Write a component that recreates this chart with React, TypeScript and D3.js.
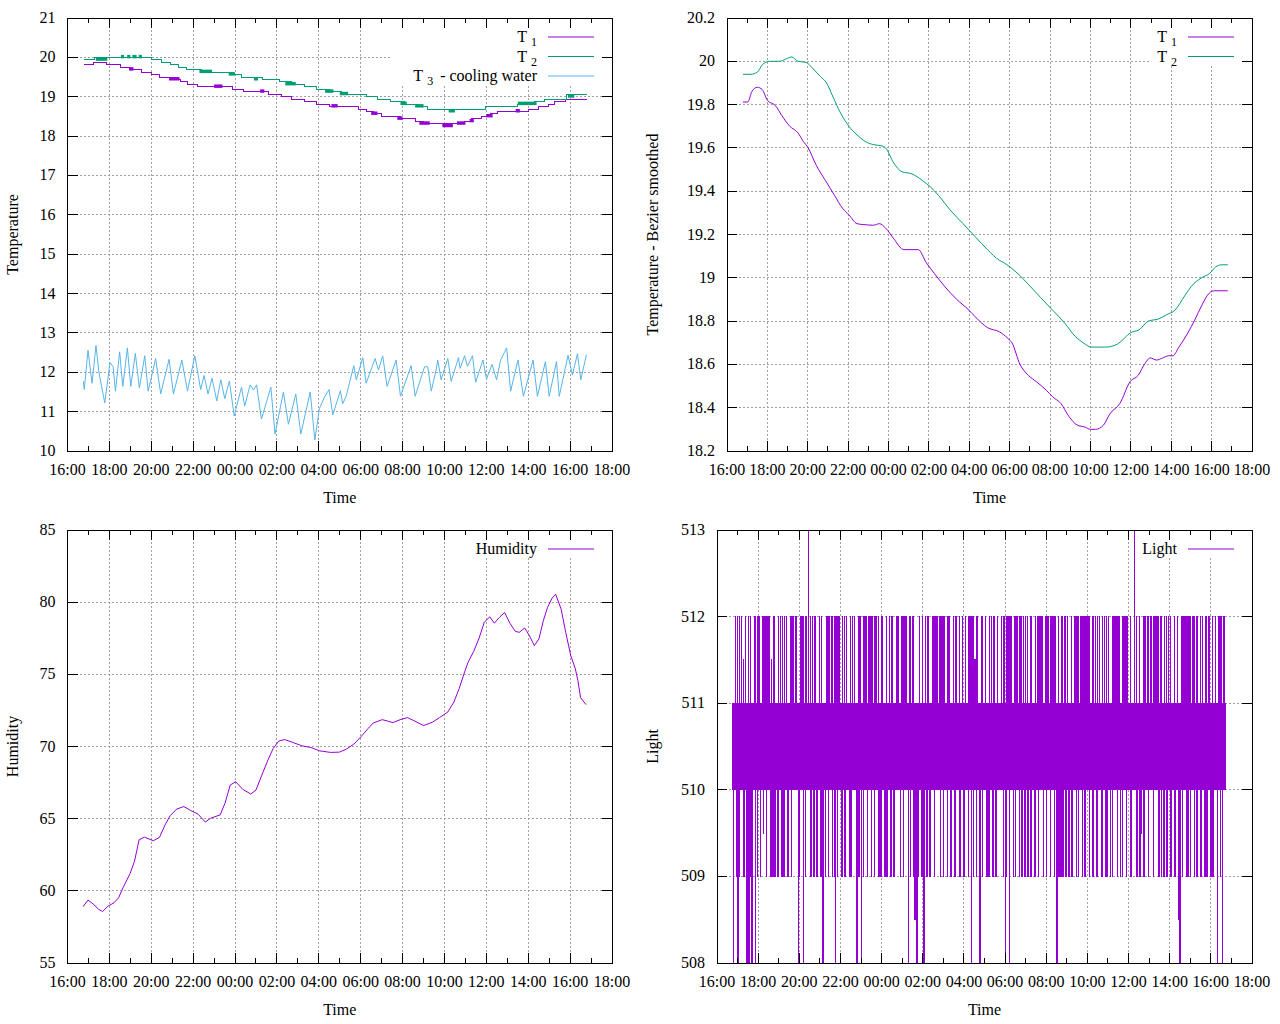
'use client';
import React, { useEffect, useRef } from 'react';
import * as d3 from 'd3';

type Pt = [number, number];
// [from hour, to hour, low value, high value] - stretches where the sensor flickers between two levels
type Band = [number, number, number, number];

// all times are hours after 16:00 on the first day
const startTime = new Date(2024, 2, 4, 16, 0, 0).getTime();
const toDate = (h: number) => new Date(startTime + h * 3600000);

const tempTicks = [10, 11, 12, 13, 14, 15, 16, 17, 18, 19, 20, 21];
const smoothTicks = [18.2, 18.4, 18.6, 18.8, 19, 19.2, 19.4, 19.6, 19.8, 20, 20.2];
const humidityTicks = [55, 60, 65, 70, 75, 80, 85];
const lightTicks = [508, 509, 510, 511, 512, 513];

// raw T1 (sensor steps of 1/16 degree), value holds until the next point
const t1Steps: Pt[] = [
  [0.77, 19.8125], [1.26, 19.875], [1.84, 19.8125], [2.55, 19.75], [2.95, 19.6875],
  [3.55, 19.625], [4.0, 19.5625], [4.4, 19.5], [4.9, 19.4375], [5.4, 19.375],
  [5.75, 19.3125], [6.2, 19.25], [7.9, 19.1875], [8.4, 19.125], [9.6, 19.0625],
  [10.2, 19.0], [10.7, 18.9375], [11.3, 18.875], [11.9, 18.8125], [12.5, 18.75],
  [13.9, 18.6875], [14.3, 18.625], [14.6, 18.5625], [15.0, 18.5], [15.9, 18.4375],
  [16.6, 18.375], [17.0, 18.3125], [18.98, 18.375], [19.3, 18.4375], [19.76, 18.5],
  [20.2, 18.5625], [20.54, 18.625], [22.0, 18.6875], [22.49, 18.75], [22.98, 18.8125],
  [23.27, 18.875], [23.76, 18.9375], [24.8, 18.9375],
];
const t1Flicker: Band[] = [
  [2.95, 3.15, 19.6875, 19.75], [4.85, 5.35, 19.4375, 19.5], [7.0, 7.4, 19.25, 19.3125],
  [9.2, 9.4, 19.125, 19.1875], [12.6, 12.9, 18.75, 18.8125], [14.5, 14.8, 18.5625, 18.625],
  [15.75, 16.0, 18.4375, 18.5], [16.8, 17.3, 18.3125, 18.375], [17.9, 18.4, 18.25, 18.3125],
  [18.6, 19.0, 18.3125, 18.375], [19.2, 19.4, 18.375, 18.4375], [20.0, 20.3, 18.5, 18.5625],
  [21.4, 21.6, 18.625, 18.6875],
];

// raw T2
const t2Steps: Pt[] = [
  [0.77, 19.9375], [1.3, 20.0], [4.0, 19.9375], [4.5, 19.875], [4.9, 19.8125],
  [5.3, 19.75], [5.7, 19.6875], [6.4, 19.625], [7.9, 19.5625], [8.3, 19.5],
  [9.3, 19.4375], [10.1, 19.375], [10.7, 19.3125], [11.3, 19.25], [11.9, 19.1875],
  [12.5, 19.125], [13.1, 19.0625], [14.3, 19.0], [14.8, 18.9375], [15.4, 18.875],
  [16.1, 18.8125], [16.7, 18.75], [17.2, 18.6875], [19.95, 18.75], [21.5, 18.8125],
  [22.3, 18.875], [22.8, 18.9375], [23.85, 19.0625], [24.8, 19.0625],
];
const t2Flicker: Band[] = [
  [1.35, 1.9, 19.9375, 20.0], [2.55, 2.7, 20.0, 20.0625], [2.85, 3.0, 20.0, 20.0625],
  [3.1, 3.3, 20.0, 20.0625], [3.4, 3.55, 20.0, 20.0625], [6.3, 6.9, 19.625, 19.6875],
  [7.7, 8.0, 19.5625, 19.625], [8.9, 9.1, 19.4375, 19.5], [10.4, 10.9, 19.3125, 19.375],
  [12.3, 12.7, 19.125, 19.1875], [13.0, 13.4, 19.0625, 19.125], [15.9, 16.2, 18.8125, 18.875],
  [16.6, 17.0, 18.75, 18.8125], [18.2, 18.5, 18.625, 18.6875], [21.5, 22.4, 18.8125, 18.875],
  [23.9, 24.2, 19.0, 19.0625],
];

// T3 - cooling water
const t3Points: Pt[] = [
  [0.76, 11.77], [0.8, 11.56], [0.98, 12.56], [1.17, 11.72], [1.36, 12.68], [1.5, 12.0],
  [1.78, 11.22], [2.03, 12.25], [2.18, 12.14], [2.29, 11.52], [2.49, 12.52], [2.64, 11.64],
  [2.86, 12.62], [3.02, 11.64], [3.24, 12.48], [3.43, 11.6], [3.69, 12.42], [3.85, 11.52],
  [4.21, 12.35], [4.45, 11.45], [4.85, 12.33], [5.06, 11.45], [5.46, 12.31], [5.73, 11.52],
  [6.08, 12.42], [6.36, 11.56], [6.52, 11.92], [6.71, 11.45], [6.9, 11.85], [7.13, 11.27],
  [7.32, 11.81], [7.51, 11.33], [7.73, 11.78], [7.96, 10.89], [8.31, 11.62], [8.46, 11.14],
  [8.72, 11.68], [8.88, 11.55], [9.03, 11.68], [9.26, 10.81], [9.71, 11.62], [9.91, 10.43],
  [10.31, 11.5], [10.55, 10.68], [10.9, 11.45], [11.14, 10.43], [11.59, 11.5], [11.81, 10.28],
  [12.03, 11.08], [12.29, 11.39], [12.49, 11.56], [12.67, 10.92], [13.03, 11.53], [13.14, 11.2],
  [13.3, 11.38], [13.46, 11.72], [13.67, 12.17], [13.79, 11.81], [14.1, 12.37], [14.26, 11.72],
  [14.69, 12.35], [14.85, 12.06], [15.05, 12.42], [15.26, 11.64], [15.69, 12.31], [15.9, 11.39],
  [16.41, 12.17], [16.6, 11.39], [17.05, 12.14], [17.2, 12.14], [17.37, 11.52], [17.6, 12.06],
  [17.68, 12.31], [17.84, 11.81], [18.16, 12.35], [18.32, 11.77], [18.67, 12.37], [18.75, 12.1],
  [18.96, 12.42], [19.1, 12.15], [19.34, 12.42], [19.49, 11.75], [19.84, 12.31], [20.01, 11.83],
  [20.27, 12.2], [20.49, 11.81], [20.68, 12.31], [20.97, 12.62], [21.16, 11.52], [21.51, 12.31],
  [21.77, 11.39], [22.23, 12.31], [22.44, 11.39], [22.82, 12.27], [23.0, 11.39], [23.35, 12.27],
  [23.48, 11.39], [23.9, 12.43], [24.11, 11.93], [24.35, 12.47], [24.51, 11.81], [24.78, 12.45],
];

// Bezier smoothed temperatures
const t1Smooth: Pt[] = [
  [0.79, 19.812], [1.03, 19.812], [1.23, 19.86], [1.5, 19.88], [1.74, 19.87], [2.0, 19.82],
  [2.4, 19.795], [2.71, 19.75], [3.11, 19.7], [3.51, 19.67], [3.78, 19.63], [4.02, 19.6],
  [4.42, 19.52], [4.87, 19.45], [5.33, 19.38], [5.73, 19.32], [6.04, 19.29], [6.44, 19.25],
  [6.74, 19.246], [7.25, 19.243], [7.55, 19.25], [7.85, 19.23], [8.26, 19.18], [8.76, 19.13],
  [9.16, 19.13], [9.47, 19.13], [9.87, 19.07], [10.27, 19.02], [10.78, 18.96], [11.38, 18.9],
  [11.99, 18.85], [12.29, 18.82], [12.9, 18.77], [13.5, 18.75], [13.91, 18.72], [14.11, 18.7],
  [14.51, 18.6], [14.92, 18.55], [15.32, 18.52], [15.82, 18.48], [16.13, 18.45], [16.53, 18.42],
  [16.93, 18.36], [17.34, 18.32], [17.74, 18.31], [18.0, 18.3], [18.25, 18.3], [18.65, 18.32],
  [18.95, 18.37], [19.46, 18.42], [19.96, 18.52], [20.37, 18.55], [20.67, 18.6], [20.97, 18.63],
  [21.27, 18.62], [21.58, 18.63], [21.88, 18.64], [22.08, 18.64], [22.38, 18.68], [22.79, 18.74],
  [23.19, 18.81], [23.5, 18.87], [23.8, 18.92], [24.1, 18.94], [24.8, 18.94],
];
const t2Smooth: Pt[] = [
  [0.79, 19.94], [1.19, 19.94], [1.5, 19.95], [1.76, 19.985], [2.1, 20.0], [2.6, 20.0],
  [2.91, 20.01], [3.21, 20.02], [3.51, 20.0], [3.92, 19.995], [4.22, 19.97], [4.62, 19.93],
  [4.93, 19.9], [5.23, 19.84], [5.63, 19.76], [6.04, 19.7], [6.44, 19.66], [6.84, 19.63],
  [7.25, 19.615], [7.65, 19.61], [7.85, 19.6], [8.26, 19.53], [8.66, 19.49], [9.16, 19.48],
  [9.67, 19.45], [10.07, 19.42], [10.48, 19.38], [11.08, 19.31], [11.69, 19.25], [12.29, 19.19],
  [12.9, 19.13], [13.5, 19.08], [13.71, 19.07], [14.01, 19.05], [14.51, 19.01], [14.92, 18.97],
  [15.52, 18.91], [16.13, 18.85], [16.73, 18.79], [17.24, 18.73], [17.64, 18.7], [18.04, 18.68],
  [18.35, 18.68], [18.75, 18.68], [19.26, 18.69], [19.56, 18.71], [19.96, 18.745], [20.41, 18.76],
  [20.87, 18.8], [21.37, 18.81], [21.78, 18.83], [22.18, 18.85], [22.69, 18.92], [22.99, 18.96],
  [23.5, 19.0], [23.9, 19.02], [24.2, 19.05], [24.51, 19.06], [24.8, 19.06],
];

const humidityPoints: Pt[] = [
  [0.74, 58.9], [0.98, 59.36], [1.25, 59.06], [1.49, 58.71], [1.68, 58.57], [1.93, 58.94],
  [2.22, 59.17], [2.44, 59.52], [2.65, 60.21], [2.99, 61.2], [3.2, 62.05], [3.42, 63.54],
  [3.67, 63.72], [4.1, 63.47], [4.39, 63.7], [4.66, 64.57], [4.9, 65.2], [5.21, 65.66],
  [5.55, 65.84], [5.89, 65.56], [6.24, 65.31], [6.58, 64.76], [6.83, 65.03], [7.29, 65.26],
  [7.52, 66.07], [7.77, 67.33], [8.03, 67.56], [8.37, 67.03], [8.75, 66.71], [9.0, 66.98],
  [9.28, 68.02], [9.57, 69.06], [9.82, 69.86], [10.08, 70.37], [10.37, 70.48], [10.76, 70.28],
  [11.19, 70.05], [11.62, 69.93], [12.04, 69.7], [12.56, 69.59], [12.98, 69.61], [13.32, 69.82],
  [13.67, 70.16], [14.01, 70.67], [14.35, 71.24], [14.6, 71.63], [15.03, 71.86], [15.54, 71.66],
  [15.89, 71.86], [16.23, 72.0], [16.57, 71.77], [17.0, 71.45], [17.42, 71.68], [17.76, 72.0],
  [18.16, 72.39], [18.45, 73.08], [18.7, 74.0], [18.96, 75.15], [19.13, 75.84], [19.39, 76.57],
  [19.64, 77.45], [19.9, 78.6], [20.16, 78.99], [20.38, 78.55], [20.62, 78.94], [20.87, 79.29],
  [21.13, 78.53], [21.38, 77.98], [21.57, 77.91], [21.83, 78.21], [22.03, 77.75], [22.29, 76.99],
  [22.51, 77.45], [22.72, 78.71], [22.92, 79.63], [23.14, 80.28], [23.31, 80.55], [23.57, 79.52],
  [23.79, 77.91], [24.03, 76.3], [24.25, 75.38], [24.37, 74.57], [24.5, 73.38], [24.76, 72.9],
];

// light readings, one character per 90-second sample, one string per hour from 16:45
const lightFirstHour = 0.75;
const lightSampleHours = 0.025;
const lightLevels: Record<string, number> = {
  '0': 508, a: 508.5, '1': 509, b: 509.5, '2': 510, '3': 511, d: 511.5, '4': 512, '5': 513,
};
const lightCodes = [
  '2303242314 0314232423 2d13242303 2403142303',
  '2324032314 2423132324 b324231423 24231d2314',
  '2413232314 2324231423 1423242313 2324132423',
  '2324232303 1324232403 2314232523 2413242314',
  '2423132324 2314230323 1324231423 2324132314',
  '0324132423 2314232413 2423232314 1324232423',
  '2303241423 0323142324 2313242324 1423231424',
  '2324132314 2423231324 1323242314 2423132324',
  '2423231324 2314232423 2303241323 2413a32303',
  '1324232314 2303242314 2423132324 2314232423',
  '2324132423 1423232314 2423132324 2314242323',
  '2413232423 1324232314 2324032413 2d23142323',
  '0303241323 2423132314 2324231424 2313242323',
  '2324231423 0314232403 2423231324 1324232314',
  '2413242314 2324132324 1423232314 2324132423',
  '2423132324 1324232314 2324231423 0324132314',
  '2413242413 2423132324 1323242314 2413232423',
  '1423141324 2324132324 1423242314 2324232314',
  '2324231413 2423132314 2324232413 2423132314',
  '2d24231423 2324132323 2523241323 2413b32324',
  '1423232413 2324232314 2324232413 1324132314',
  '2324132423 2413232324 13232423a3 0324132423',
  '2413141324 1323242413 2314132324 1324232314',
  '2413242423 1324132324 2303242314 2303242323',
];
const lightPoints: Pt[] = lightCodes
  .join('')
  .replace(/ /g, '')
  .split('')
  .map((c, i) => [lightFirstHour + i * lightSampleHours, lightLevels[c]] as Pt);

const PURPLE = '#9400d3';
const GREEN = '#009e73';
const BLUE = '#56b4e9';
const FONT = "'Liberation Serif', 'Times New Roman', serif";

const PLOT_TOP = 18;
const PLOT_BOTTOM = 451;
const PLOT_RIGHT = 612;

interface SeriesSpec {
  label: string;
  color: string;
  data: Pt[];
  step?: boolean;
  bands?: Band[];
  smooth?: boolean;
}

interface PanelSpec {
  ox: number;
  oy: number;
  left: number;
  yTicks: number[];
  yLabel: string;
  keyLeft: number;
  series: SeriesSpec[];
}

const panels: PanelSpec[] = [
  {
    ox: 0, oy: 0, left: 67.5, yTicks: tempTicks, yLabel: 'Temperature', keyLeft: 390,
    series: [
      { label: 'T_1', color: PURPLE, data: t1Steps, step: true, bands: t1Flicker },
      { label: 'T_2', color: GREEN, data: t2Steps, step: true, bands: t2Flicker },
      { label: 'T_3 - cooling water', color: BLUE, data: t3Points },
    ],
  },
  {
    ox: 640, oy: 0, left: 87, yTicks: smoothTicks, yLabel: 'Temperature - Bezier smoothed', keyLeft: 509,
    series: [
      { label: 'T_1', color: PURPLE, data: t1Smooth, smooth: true },
      { label: 'T_2', color: GREEN, data: t2Smooth, smooth: true },
    ],
  },
  {
    ox: 0, oy: 512, left: 67.5, yTicks: humidityTicks, yLabel: 'Humidity', keyLeft: 470,
    series: [{ label: 'Humidity', color: PURPLE, data: humidityPoints }],
  },
  {
    ox: 640, oy: 512, left: 77, yTicks: lightTicks, yLabel: 'Light', keyLeft: 495,
    series: [{ label: 'Light', color: PURPLE, data: lightPoints, step: true }],
  },
];

function addLabel(
  sel: d3.Selection<SVGTextElement, unknown, null, undefined>,
  label: string,
) {
  // gnuplot enhanced text: "T_1" -> T with subscript 1
  const m = label.match(/^(.*?)_(\w)(.*)$/);
  if (!m) {
    sel.text(label);
    return;
  }
  sel.append('tspan').text(m[1]);
  sel.append('tspan').attr('font-size', 12).attr('dx', 4).attr('dy', 4).text(m[2]);
  if (m[3]) sel.append('tspan').attr('font-size', 16).attr('dx', 3).attr('dy', -4).text(m[3].replace(/^ /, '\u00a0'));
}

function drawPanel(root: d3.Selection<SVGGElement, unknown, null, undefined>, p: PanelSpec, id: number) {
  const g = root.append('g').attr('transform', `translate(${p.ox},${p.oy})`);
  const x = d3.scaleTime().domain([toDate(0), toDate(26)]).range([p.left, PLOT_RIGHT]);
  const y = d3
    .scaleLinear()
    .domain([p.yTicks[0], p.yTicks[p.yTicks.length - 1]])
    .range([PLOT_BOTTOM, PLOT_TOP]);

  const majors = d3.timeHour.every(2)!.range(toDate(0), new Date(toDate(26).getTime() + 1));
  const minors = d3.timeHour.range(toDate(0), toDate(26)).filter((d) => d.getHours() % 2 === 1);

  // grid
  const grid = g.append('g').attr('stroke', '#a0a0a0').attr('stroke-dasharray', '2,2').attr('shape-rendering', 'crispEdges');
  majors.slice(1, -1).forEach((d) => {
    grid.append('line').attr('x1', x(d)).attr('x2', x(d)).attr('y1', PLOT_TOP).attr('y2', PLOT_BOTTOM);
  });
  p.yTicks.slice(1, -1).forEach((v) => {
    grid.append('line').attr('x1', p.left).attr('x2', PLOT_RIGHT).attr('y1', y(v)).attr('y2', y(v));
  });

  // key area hides the grid
  const rows = p.series.length;
  g.append('rect')
    .attr('x', p.keyLeft)
    .attr('y', PLOT_TOP + 1)
    .attr('width', PLOT_RIGHT - p.keyLeft - 1)
    .attr('height', 27 + (rows - 1) * 19.5)
    .attr('fill', '#fff');

  // data
  const clipId = `clip-${id}`;
  g.append('clipPath')
    .attr('id', clipId)
    .append('rect')
    .attr('x', p.left)
    .attr('y', PLOT_TOP)
    .attr('width', PLOT_RIGHT - p.left)
    .attr('height', PLOT_BOTTOM - PLOT_TOP);
  const plot = g.append('g').attr('clip-path', `url(#${clipId})`);

  p.series.forEach((s) => {
    const line = d3
      .line<Pt>()
      .x((d) => x(toDate(d[0])))
      .y((d) => y(d[1]))
      .curve(s.step ? d3.curveStepAfter : s.smooth ? d3.curveMonotoneX : d3.curveLinear);
    if (s.bands) {
      plot
        .append('g')
        .selectAll('rect')
        .data(s.bands)
        .enter()
        .append('rect')
        .attr('x', (d) => x(toDate(d[0])))
        .attr('width', (d) => x(toDate(d[1])) - x(toDate(d[0])))
        .attr('y', (d) => y(d[3]))
        .attr('height', (d) => y(d[2]) - y(d[3]) + 1)
        .attr('fill', s.color);
    }
    plot
      .append('path')
      .attr('d', line(s.data) as string)
      .attr('fill', 'none')
      .attr('stroke', s.color)
      .attr('stroke-width', 1)
      .attr('shape-rendering', s.step ? 'crispEdges' : 'auto');
  });

  // border and ticks
  const axes = g.append('g').attr('stroke', '#000').attr('shape-rendering', 'crispEdges');
  axes
    .append('rect')
    .attr('x', p.left)
    .attr('y', PLOT_TOP)
    .attr('width', PLOT_RIGHT - p.left)
    .attr('height', PLOT_BOTTOM - PLOT_TOP)
    .attr('fill', 'none');
  majors.forEach((d) => {
    axes.append('line').attr('x1', x(d)).attr('x2', x(d)).attr('y1', PLOT_BOTTOM).attr('y2', PLOT_BOTTOM - 10);
    axes.append('line').attr('x1', x(d)).attr('x2', x(d)).attr('y1', PLOT_TOP).attr('y2', PLOT_TOP + 10);
  });
  minors.forEach((d) => {
    axes.append('line').attr('x1', x(d)).attr('x2', x(d)).attr('y1', PLOT_BOTTOM).attr('y2', PLOT_BOTTOM - 5);
    axes.append('line').attr('x1', x(d)).attr('x2', x(d)).attr('y1', PLOT_TOP).attr('y2', PLOT_TOP + 5);
  });
  p.yTicks.forEach((v) => {
    axes.append('line').attr('x1', p.left).attr('x2', p.left + 10).attr('y1', y(v)).attr('y2', y(v));
    axes.append('line').attr('x1', PLOT_RIGHT).attr('x2', PLOT_RIGHT - 10).attr('y1', y(v)).attr('y2', y(v));
  });

  // tick labels
  const txt = g.append('g').attr('font-family', FONT).attr('font-size', 16).attr('fill', '#000');
  const fmtTime = d3.timeFormat('%H:%M');
  majors.forEach((d) => {
    txt.append('text').attr('x', x(d)).attr('y', PLOT_BOTTOM + 24).attr('text-anchor', 'middle').text(fmtTime(d));
  });
  const fmtY = d3.format('~g');
  p.yTicks.forEach((v) => {
    txt.append('text').attr('x', p.left - 12).attr('y', y(v) + 5).attr('text-anchor', 'end').text(fmtY(v));
  });

  // axis titles
  txt
    .append('text')
    .attr('x', (p.left + PLOT_RIGHT) / 2)
    .attr('y', PLOT_BOTTOM + 52)
    .attr('text-anchor', 'middle')
    .text('Time');
  const midY = (PLOT_TOP + PLOT_BOTTOM) / 2;
  txt
    .append('text')
    .attr('transform', `translate(18,${midY}) rotate(-90)`)
    .attr('text-anchor', 'middle')
    .text(p.yLabel);

  // key
  p.series.forEach((s, i) => {
    const cy = PLOT_TOP + 19 + i * 19.5;
    const t = txt.append('text').attr('x', 537).attr('y', cy + 5).attr('text-anchor', 'end');
    addLabel(t, s.label);
    g.append('line')
      .attr('x1', 548)
      .attr('x2', 594)
      .attr('y1', cy)
      .attr('y2', cy)
      .attr('stroke', s.color)
      .attr('stroke-width', 1.2);
  });
}

const App: React.FC = () => {
  const ref = useRef<SVGSVGElement>(null);

  useEffect(() => {
    if (!ref.current) return;
    const svg = d3.select(ref.current);
    svg.selectAll('*').remove();
    svg.append('rect').attr('width', 1280).attr('height', 1024).attr('fill', '#fff');
    const root = svg.append('g');
    panels.forEach((p, i) => drawPanel(root, p, i));
  }, []);

  return (
    <svg
      ref={ref}
      width={1280}
      height={1024}
      style={{ position: 'absolute', left: 0, top: 0, display: 'block' }}
    />
  );
};

export default App;
